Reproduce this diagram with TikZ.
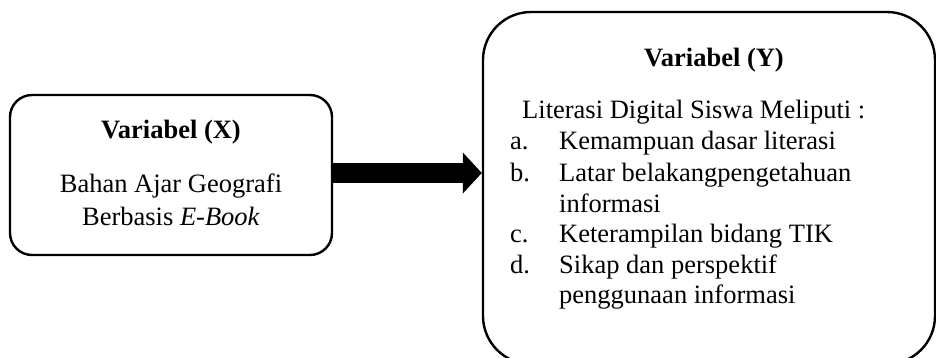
\documentclass[tikz,border=0pt]{standalone}
\usepackage{fontspec}
\setmainfont{Liberation Serif}
\usetikzlibrary{arrows.meta}
\begin{document}
\begin{tikzpicture}[x=1pt,y=-1pt,
  box/.style={draw, line width=2.4pt, inner sep=0pt},
  txt/.style={inner sep=0pt, font=\fontsize{26.5}{30.5}\selectfont},
  bigarrow/.style={line width=20pt, -{Triangle[length=19pt,width=40pt]}}]
\useasboundingbox (0,0) rectangle (936,358);
\clip (0,0) rectangle (936,358);
\node[box, rounded corners=22pt, minimum width=322pt, minimum height=160pt] (X) at (171,175) {};
\node[box, rounded corners=48pt, minimum width=452pt, minimum height=352pt] (Y) at (709,188) {};
\node[txt, anchor=base] (xt) at (171,139) {\bfseries Variabel (X)};
\node[txt, anchor=base] (x1) at (171,193) {Bahan Ajar Geografi};
\node[txt, anchor=base] (x2) at (171,225) {Berbasis \textit{E-Book}};
\node[txt, anchor=base] (yt) at (714,67) {\bfseries Variabel (Y)};
\node[txt, anchor=base west] (y0) at (522,119) {Literasi Digital Siswa Meliputi :};
\node[txt, anchor=base west] (la) at (510,150) {a.};
\node[txt, anchor=base west] (ia) at (559,150) {Kemampuan dasar literasi};
\node[txt, anchor=base west] (lb) at (510,182) {b.};
\node[txt, anchor=base west] (ib) at (559,182) {Latar belakangpengetahuan};
\node[txt, anchor=base west] (ib2) at (559,212) {informasi};
\node[txt, anchor=base west] (lc) at (510,242) {c.};
\node[txt, anchor=base west] (ic) at (559,242) {Keterampilan bidang TIK};
\node[txt, anchor=base west] (ld) at (510,273) {d.};
\node[txt, anchor=base west] (id) at (559,273) {Sikap dan perspektif};
\node[txt, anchor=base west] (id2) at (559,303) {penggunaan informasi};
\coordinate (a1) at (X.east |- 0,173);
\coordinate (a2) at (Y.west |- 0,173);
\draw[bigarrow] (a1) -- (a2);
\end{tikzpicture}
\end{document}
